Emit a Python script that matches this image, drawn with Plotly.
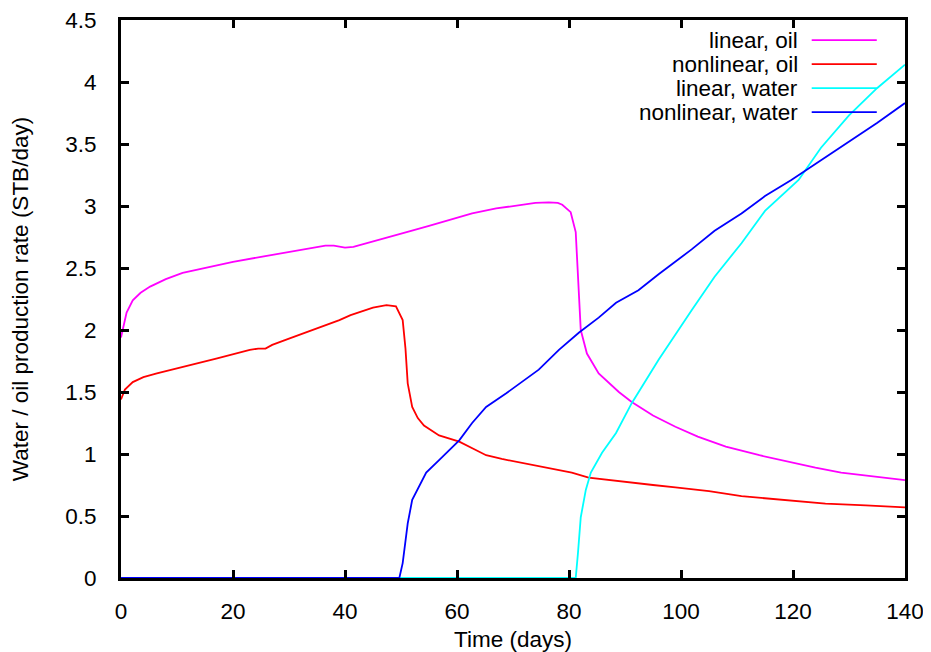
import plotly.graph_objects as go

# ---- data ----
lin_oil_x = [0, 1.0, 2.1, 3.5, 5.2, 8, 11, 15, 20, 25, 29, 33, 36.5, 38, 40, 41.5, 44, 47, 51, 55, 58,
             62.7, 67, 71.6, 74, 76.4, 78, 78.8, 80.3, 81.2, 81.7, 82.1, 83.2, 85.3, 88.9, 91.2, 95, 99,
             103, 108, 114, 119.7, 124, 128.6, 134, 140]
lin_oil_y = [1.94, 2.14, 2.24, 2.30, 2.35, 2.41, 2.46, 2.50, 2.55, 2.59, 2.62, 2.65, 2.68, 2.68, 2.665,
             2.67, 2.70, 2.74, 2.79, 2.84, 2.88, 2.94, 2.98, 3.01, 3.025, 3.03, 3.025, 3.01, 2.95, 2.79,
             2.40, 2.00, 1.81, 1.65, 1.50, 1.42, 1.31, 1.22, 1.14, 1.06, 0.99, 0.93, 0.89, 0.85, 0.82, 0.79]

nl_oil_x = [0, 0.7, 2.1, 4, 6.4, 11, 17, 23, 24.5, 25.8, 27, 30, 33, 36, 39, 41, 43, 45, 47.4, 49.1,
            50.3, 50.8, 51.2, 52, 53, 54.1, 56.8, 60.4, 63, 65.2, 68, 71.6, 76, 80.5, 83.5, 88.9, 95,
            99, 105, 110.8, 118, 125.8, 133, 140]
nl_oil_y = [1.44, 1.52, 1.58, 1.62, 1.65, 1.70, 1.77, 1.84, 1.85, 1.85, 1.88, 1.93, 1.98, 2.03, 2.08,
            2.12, 2.15, 2.18, 2.20, 2.19, 2.08, 1.85, 1.57, 1.38, 1.29, 1.23, 1.15, 1.10, 1.04, 0.99,
            0.96, 0.93, 0.89, 0.85, 0.81, 0.78, 0.75, 0.73, 0.70, 0.66, 0.63, 0.60, 0.585, 0.57]

lin_wat_x = [0, 81.2, 81.6, 82.1, 83, 83.9, 85.9, 88.4, 91.2, 96, 101.9, 106, 110.8, 115, 121, 125,
             130, 135, 140]
lin_wat_y = [0, 0, 0.20, 0.49, 0.71, 0.85, 1.01, 1.17, 1.41, 1.76, 2.16, 2.43, 2.70, 2.96, 3.21, 3.47,
             3.73, 3.95, 4.14]

nl_wat_x = [0, 49.7, 50.3, 51.2, 52, 53.3, 54.5, 56.8, 60.4, 62.7, 65.2, 68.8, 74.6, 78.2, 81.8, 85.3,
            88.4, 92.4, 96, 101.9, 106, 110.8, 115, 119.7, 125, 130, 135, 140]
nl_wat_y = [0, 0, 0.12, 0.44, 0.63, 0.74, 0.85, 0.95, 1.11, 1.25, 1.38, 1.49, 1.68, 1.84, 1.98, 2.10,
            2.22, 2.32, 2.45, 2.65, 2.80, 2.94, 3.08, 3.21, 3.37, 3.52, 3.67, 3.83]

series_names = ["linear, oil", "nonlinear, oil", "linear, water", "nonlinear, water"]
series_colors = ["#ff00ff", "#ff0000", "#00ffff", "#0000ff"]
series_x = [lin_oil_x, nl_oil_x, lin_wat_x, nl_wat_x]
series_y = [lin_oil_y, nl_oil_y, lin_wat_y, nl_wat_y]

x_ticks = [0, 20, 40, 60, 80, 100, 120, 140]
y_ticks = [0, 0.5, 1, 1.5, 2, 2.5, 3, 3.5, 4, 4.5]

FONT = "Liberation Sans, Arial, sans-serif"
FS = 22.5

fig = go.Figure()
for name, col, xs, ys in zip(series_names, series_colors, series_x, series_y):
    fig.add_trace(go.Scatter(x=xs, y=ys, mode="lines", name=name,
                             line=dict(color=col, width=1.8), showlegend=False))

# gnuplot-style legend: text on the left, line sample on the right
row_y = [0.964, 0.921, 0.878, 0.835]
for name, col, ry in zip(series_names, series_colors, row_y):
    fig.add_annotation(x=0.866, y=ry, xref="paper", yref="paper", text=name, showarrow=False,
                       xanchor="right", yanchor="middle", font=dict(family=FONT, size=FS, color="black"))
    fig.add_shape(type="line", xref="paper", yref="paper", x0=0.881, x1=0.964, y0=ry, y1=ry,
                  line=dict(color=col, width=1.8))

axis_common = dict(showgrid=False, zeroline=False, showline=True, linecolor="black", linewidth=3,
                   mirror="ticks", ticks="inside", ticklen=8, tickwidth=3, tickcolor="black",
                   automargin=False, ticklabeloverflow="allow",
                   tickfont=dict(family=FONT, size=FS, color="black"))

fig.update_xaxes(range=[0, 140], tickvals=x_ticks, ticktext=[str(v) for v in x_ticks],
                 title=dict(text="Time (days)", font=dict(family=FONT, size=FS, color="black"), standoff=12),
                 ticklabelstandoff=11, **axis_common)
fig.update_yaxes(range=[0, 4.5], tickvals=y_ticks, ticktext=[("%g" % v) for v in y_ticks],
                 title=dict(text="Water / oil production rate (STB/day)",
                            font=dict(family=FONT, size=FS, color="black"), standoff=33),
                 ticklabelstandoff=17, **axis_common)

# the page body adds an 8px offset, so the figure is sized to end at the window edge
fig.update_layout(width=923, height=644, margin=dict(l=113, r=26, t=12, b=74),
                  plot_bgcolor="white", paper_bgcolor="white",
                  font=dict(family=FONT, size=FS, color="black"))

fig.write_html("out.html")
